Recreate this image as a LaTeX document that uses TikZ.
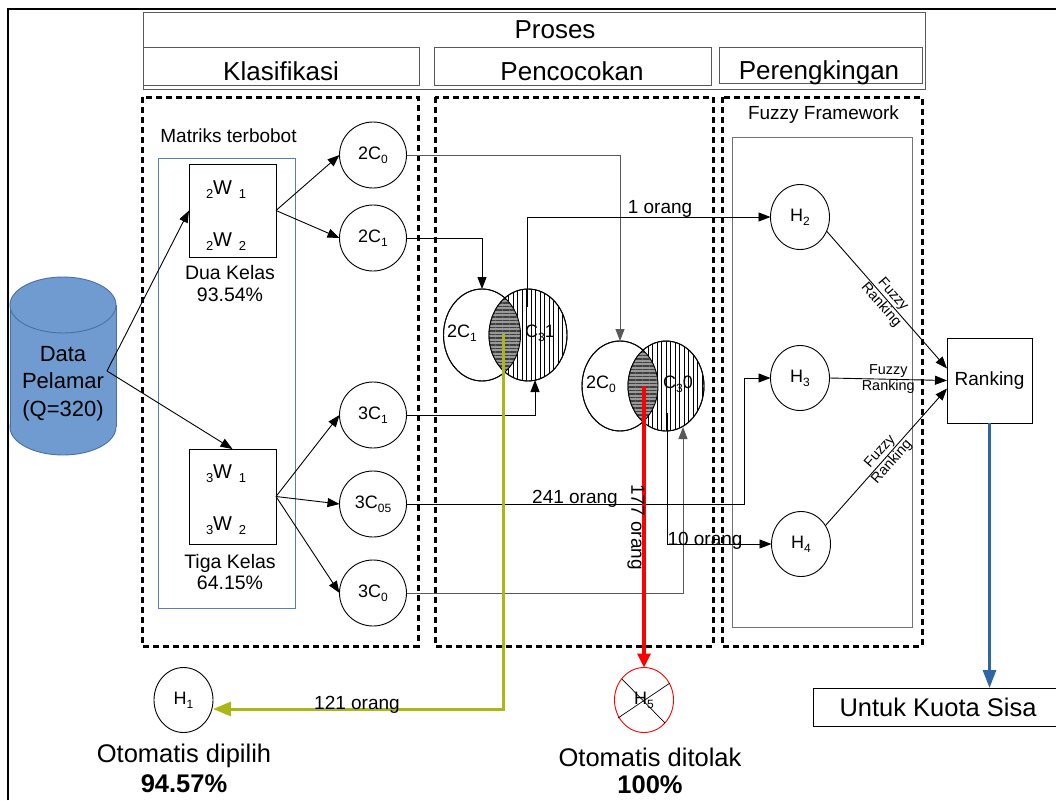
\documentclass[tikz,border=0pt]{standalone}
\usepackage{fontspec}
\setmainfont{Liberation Sans}
\usetikzlibrary{arrows.meta,patterns.meta,shapes.geometric,calc}

\newcommand{\fsz}[2]{\fontsize{#1}{#2}\selectfont}
\newcommand{\dn}[1]{\raisebox{-4pt}{\fontsize{12}{12}\selectfont #1}}
\newcommand{\wdn}[1]{\raisebox{-4pt}{\fontsize{13}{13}\selectfont #1}}

\definecolor{cylfill}{RGB}{112,155,208}
\definecolor{cyledge}{RGB}{72,112,165}
\definecolor{matblue}{RGB}{79,129,189}
\definecolor{olive}{RGB}{172,182,22}
\definecolor{quotablue}{RGB}{47,100,165}

\begin{document}
\begin{tikzpicture}[x=1pt,y=-1pt,
  every node/.style={inner sep=0pt, outer sep=0pt},
  hdr/.style={draw=black!65, line width=0.9pt},
  htext/.style={anchor=base, font={\fsz{26}{26}}},
  phase/.style={draw, line width=3pt, dash pattern=on 6pt off 4pt},
  circ/.style={draw, ellipse, line width=0.9pt, minimum width=67, minimum height=66, font={\fsz{18}{18}}},
  hcirc/.style={draw, ellipse, line width=0.9pt, minimum width=59, minimum height=65, font={\fsz{18}{18}}},
  wbox/.style={draw, line width=0.9pt, minimum width=87},
  wtext/.style={font={\fsz{20}{20}}},
  conn/.style={line width=0.9pt, -{Triangle[length=12pt,width=9pt]}},
  gconn/.style={conn, draw=black!65},
  lbl/.style={font={\fsz{19}{19}}},
  fzl/.style={align=center, font={\fsz{14.4}{16}}},
  vennL/.style={draw, ellipse, line width=0.9pt, fill=white},
  vennR/.style={draw, ellipse, line width=0.9pt, preaction={fill=white},
    pattern={Lines[angle=90,distance=4.5pt,line width=0.7pt]}},
  lens/.style={fill=black!40, postaction={pattern={Lines[angle=0,distance=3.5pt,line width=1.2pt]}, pattern color=black!75}}
]
\useasboundingbox (0,0) rectangle (1056,800);

% outer frame
\draw[line width=2.5pt] (8,800) -- (8,9) -- (1056,9);

% header
\node[hdr, minimum width=782, minimum height=77, anchor=north west] (proses) at (143,12) {};
\node[htext] (tproses) at (555,38) {Proses};
\node[hdr, minimum width=276, minimum height=38] (klas) at (281,66) {};
\node[htext] (tklas) at (281,81) {Klasifikasi};
\node[hdr, minimum width=277, minimum height=38] (penc) at (572.5,66) {};
\node[htext] (tpenc) at (572,81) {Pencocokan};
\node[hdr, minimum width=203, minimum height=36] (pere) at (820.5,65) {};
\node[htext] (tpere) at (819,79) {Perengkingan};

% phase frames
\draw[phase] (142,97) rectangle (418,646);
\draw[phase] (435,97) rectangle (713,646);
\draw[phase] (722,97) rectangle (922,646);

% classification part
\node[font={\fsz{19}{19}}] (tmat) at (228.5,136) {Matriks terbobot};
\draw[matblue, line width=0.9pt] (158,158) rectangle (295,608);

\node[wbox, minimum height=93] (w2) at (232.5,210.5) {};
\node[wtext] (w21) at (226,190) {\wdn{2}W\,\,\wdn{1}};
\node[wtext] (w22) at (226,242) {\wdn{2}W\,\,\wdn{2}};
\node[align=center, font={\fsz{19.5}{22}}] (tdua) at (230,284) {Dua Kelas\\93.54\%};

\node[wbox, minimum height=95] (w3) at (232.5,496.5) {};
\node[wtext] (w31) at (226,474) {\wdn{3}W\,\,\wdn{1}};
\node[wtext] (w32) at (226,526) {\wdn{3}W\,\,\wdn{2}};
\node[align=center, font={\fsz{19.5}{21}}] (ttiga) at (230,572.5) {Tiga Kelas\\64.15\%};

\node[circ] (c20) at (373,155) {2C\dn{0}};
\node[circ] (c21) at (373,238) {2C\dn{1}};
\node[circ] (c31) at (373,415) {3C\dn{1}};
\node[circ] (c305) at (373,504) {3C\dn{05}};
\node[circ] (c30) at (373,593) {3C\dn{0}};

% applicant data cylinder
\fill[cylfill, draw=cyledge, line width=0.9pt] (63,427) ellipse [x radius=53, y radius=28];
\fill[cylfill] (10,305) rectangle (116,427);
\draw[cyledge, line width=0.9pt] (10,305) -- (10,427) (116,305) -- (116,427);
\fill[cylfill, draw=cyledge, line width=0.9pt] (63,305) ellipse [x radius=53, y radius=28];
\node[align=center, font={\fsz{22}{27.5}}] (dp) at (63,383.5) {Data\\Pelamar\\(Q=320)};
\coordinate (dpout) at (107,371);

\draw[conn] (dpout) -- (w2.west);
\draw[conn] (dpout) -- (w3.north);
\draw[conn] (w2.east) -- (c20.west);
\draw[conn] (w2.east) -- (c21.west);
\draw[conn] (w3.east) -- (c31.west);
\draw[conn] (w3.east) -- (c305.west);
\draw[conn] (w3.east) -- (c30.west);

% matching: two overlapping sets
\node[vennL, minimum width=77, minimum height=92] (v1a) at (482,335) {};
\node[vennR, minimum width=78, minimum height=92] (v1b) at (528,335) {};
\begin{scope}
  \clip (482,335) ellipse [x radius=38.5, y radius=46];
  \path[lens] (528,335) ellipse [x radius=39, y radius=46];
\end{scope}
\draw[line width=0.9pt] (482,335) ellipse [x radius=38.5, y radius=46];
\draw[line width=0.9pt] (528,335) ellipse [x radius=39, y radius=46];
\node[font={\fsz{18}{18}}] (l21) at (462,333) {2C\dn{1}};
\node[font={\fsz{18}{18}}] (l31) at (540,333) {C\dn{3}1};

\node[vennL, minimum width=76, minimum height=90] (v2a) at (620,386) {};
\node[vennR, minimum width=76, minimum height=90] (v2b) at (666,386) {};
\begin{scope}
  \clip (620,386) ellipse [x radius=38, y radius=45];
  \path[lens] (666,386) ellipse [x radius=38, y radius=45];
\end{scope}
\draw[line width=0.9pt] (620,386) ellipse [x radius=38, y radius=45];
\draw[line width=0.9pt] (666,386) ellipse [x radius=38, y radius=45];
\node[font={\fsz{18}{18}}] (l20) at (601,384) {2C\dn{0}};
\node[font={\fsz{18}{18}}] (l30) at (678,384) {C\dn{3}0};

\coordinate (v1bin) at (535,380);
\coordinate (v2bin) at (683,427);
\coordinate (s1) at (527,307);
\coordinate (s2) at (667,413);
\coordinate (s3) at (644,386);
\coordinate (s4) at (503,334);
\coordinate (j305) at (744,378);

% ranking part
\node[font={\fsz{19}{19}}] (tfuzzy) at (823.5,115) {Fuzzy Framework};
\draw[black!55, line width=0.9pt] (732,137) rectangle (912,627);
\node[hcirc] (h2) at (800,217) {H\dn{2}};
\node[hcirc] (h3) at (800,378) {H\dn{3}};
\node[hcirc] (h4) at (801,544) {H\dn{4}};
\node[draw, line width=0.9pt, minimum width=85, minimum height=85, font={\fsz{19}{19}}] (rank) at (989.5,380.5) {Ranking};

% outcome nodes
\node[hcirc] (h1) at (183.5,700) {H\dn{1}};
\node[hcirc, draw=red] (h5) at (644,700) {H\dn{5}};
\draw[line width=0.7pt] ($(h5)+(-22,-21)$) -- ($(h5)+(21,23)$);
\draw[line width=0.7pt] ($(h5)+(-26,18)$) -- ($(h5)+(26,-17)$);
\node[align=center, font={\fsz{25.5}{30}}] (tpilih) at (184,768) {Otomatis dipilih\\\textbf{94.57\%}};
\node[align=center, font={\fsz{25.5}{27}}] (ttolak) at (650,770.5) {Otomatis ditolak\\\textbf{100\%}};
\node[draw, line width=0.9pt, minimum width=246, minimum height=38] (kuota) at (936,707) {};
\node[font={\fsz{25.5}{25.5}}] (tkuota) at (938,707) {Untuk Kuota Sisa};

% flows
\draw[gconn] (c20.east) -| (v2a.north);
\draw[conn] (c21.east) -| (v1a.north);
\draw[conn] (c31.east) -| (v1bin);
\draw[gconn] (c30.east) -| (v2bin);
\draw[conn] (c305.east) -| (j305) -- (h3.west);
\draw[conn] (s1) |- (h2.west);
\draw[conn] (s2) |- (h4.west);
\draw[red, line width=3.2pt, -{Triangle[length=14pt,width=13pt]}] (s3) -- (h5.north);
\draw[olive, line width=3pt, -{Triangle[length=18pt,width=14pt]}] (s4) |- ([yshift=-9pt]h1.east);
\draw[quotablue, line width=3pt, -{Triangle[length=18pt,width=13pt]}] (rank.south) -- (rank.south |- kuota.north);

\draw[conn] (h2.-28) -- ([yshift=12pt]rank.west) node[midway, sloped, fzl] {Fuzzy\\Ranking};
\draw[conn] (h3.east) -- (rank.west) node[midway, fzl] {Fuzzy\\Ranking};
\draw[conn] (h4.37) -- ([yshift=-8pt]rank.west) node[midway, sloped, fzl] {Fuzzy\\Ranking};

% flow labels
\node[lbl] (n1) at (660,209) {1 orang};
\node[lbl] (n241) at (575,499) {241 orang};
\node[lbl] (n10) at (705,541) {10 orang};
\node[lbl] (n121) at (357,705) {121 orang};
\node[lbl, rotate=-90] (n177) at (636,527) {177 orang};
\end{tikzpicture}
\end{document}
